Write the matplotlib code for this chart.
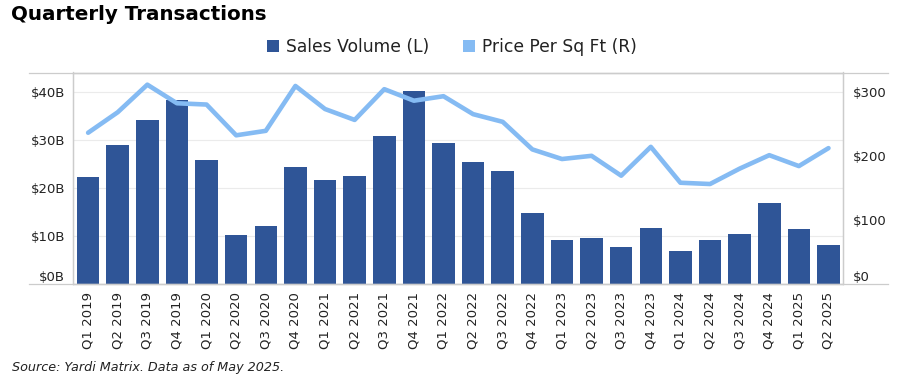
import matplotlib.pyplot as plt
from matplotlib.lines import Line2D
from matplotlib.patches import Patch
from matplotlib.ticker import FuncFormatter

# ---------------------------------------------------------------
# data
# ---------------------------------------------------------------
quarters = [
    "Q1 2019", "Q2 2019", "Q3 2019", "Q4 2019",
    "Q1 2020", "Q2 2020", "Q3 2020", "Q4 2020",
    "Q1 2021", "Q2 2021", "Q3 2021", "Q4 2021",
    "Q1 2022", "Q2 2022", "Q3 2022", "Q4 2022",
    "Q1 2023", "Q2 2023", "Q3 2023", "Q4 2023",
    "Q1 2024", "Q2 2024", "Q3 2024", "Q4 2024",
    "Q1 2025", "Q2 2025",
]
sales_volume_b = [
    22.2, 28.9, 34.1, 38.3,
    25.8, 10.2, 12.1, 24.3,
    21.6, 22.5, 30.8, 40.1,
    29.3, 25.4, 23.5, 14.8,
    9.1, 9.6, 7.7, 11.6,
    6.9, 9.1, 10.4, 16.8,
    11.4, 8.1,
]
price_per_sqft = [
    236, 268, 311, 282,
    280, 232, 239, 309,
    273, 256, 304, 286,
    293, 265, 253, 210,
    195, 200, 169, 214,
    158, 156, 180, 201,
    184, 212,
]

BAR_COLOR = "#2F5597"
LINE_COLOR = "#85BBF3"
FRAME = "#cccccc"
TXT = "#222222"

plt.rcParams["font.family"] = ["DejaVu Sans"]

W, H = 921, 379
fig = plt.figure(figsize=(W / 100, H / 100), dpi=100)
ax = fig.add_axes([73.3 / W, 1 - 284 / H, (843.3 - 73.3) / W, (284 - 72.5) / H])
ax2 = ax.twinx()

x = list(range(len(quarters)))
ax.bar(x, sales_volume_b, width=0.76, color=BAR_COLOR, zorder=2)
ax2.plot(x, price_per_sqft, color=LINE_COLOR, lw=3.3, solid_joinstyle="round",
         solid_capstyle="round", zorder=3)

ax.set_xlim(-0.5, len(quarters) - 0.5)
ax.set_ylim(0, 43.95)
ax2.set_ylim(0, 330)
ax.set_yticks([0, 10, 20, 30, 40])
ax2.set_yticks([0, 100, 200, 300])
ax.yaxis.set_major_formatter(FuncFormatter(lambda v, p: f"${v:.0f}B"))
ax2.yaxis.set_major_formatter(FuncFormatter(lambda v, p: f"${v:.0f}"))
ax.set_xticks(x)
ax.set_xticklabels(quarters, rotation=90, fontsize=9.5, color=TXT)

ax.grid(axis="y", color="#ebebeb", lw=0.8, zorder=0)
ax.set_axisbelow(True)
ax.tick_params(axis="both", length=0, labelsize=9.5, colors=TXT)
ax.tick_params(axis="x", pad=6)
ax.tick_params(axis="y", pad=6)
ax2.tick_params(axis="y", length=0, labelsize=9.5, colors=TXT, pad=7)

# the zero labels sit just above the bottom frame line
ax.get_yticklabels()[0].set_va("bottom")
ax2.get_yticklabels()[0].set_va("bottom")

for a in (ax, ax2):
    for s in a.spines.values():
        s.set_color(FRAME)
        s.set_linewidth(0.9)

# outer frame lines that run beyond the axes
fig.add_artist(Line2D([29 / W, 888 / W], [1 - 72.5 / H] * 2, color=FRAME, lw=0.9))
fig.add_artist(Line2D([29 / W, 888 / W], [1 - 284 / H] * 2, color=FRAME, lw=0.9))

fig.text(11 / W, 1 - 14 / H, "Quarterly Transactions", fontsize=14.3, fontweight="bold",
         ha="left", va="center", color="black")

handles = [Patch(facecolor=BAR_COLOR, label="Sales Volume (L)"),
           Patch(facecolor=LINE_COLOR, label="Price Per Sq Ft (R)")]
fig.legend(handles=handles, loc="center", bbox_to_anchor=(452 / W, 1 - 47 / H), ncol=2,
           frameon=False, fontsize=12.3, handlelength=0.7, handleheight=0.7,
           handletextpad=0.4, columnspacing=2.0, labelcolor=TXT)

fig.text(12 / W, 1 - 367 / H, "Source: Yardi Matrix. Data as of May 2025.",
         fontsize=9.2, style="italic", ha="left", va="center", color=TXT)

fig.savefig("out.png", dpi=100)
